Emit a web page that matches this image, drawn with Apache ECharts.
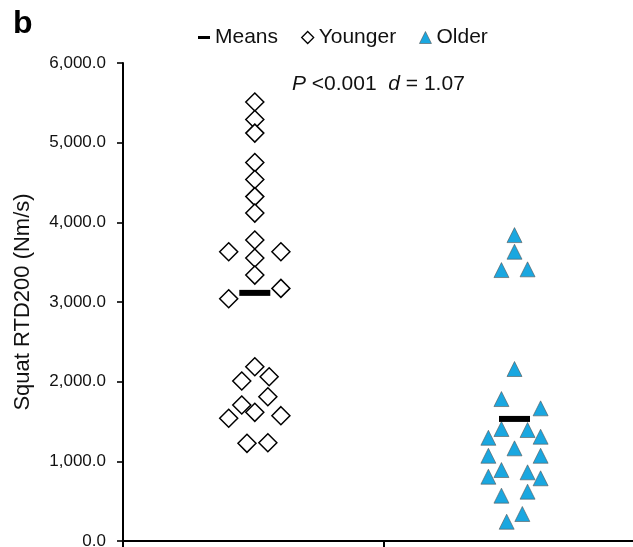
<!DOCTYPE html>
<html>
<head>
<meta charset="utf-8">
<script src="https://cdn.jsdelivr.net/npm/echarts@6/dist/echarts.min.js"></script>
<style>
  html, body { margin: 0; padding: 0; background: #fff; }
  #chart { width: 633px; height: 547px; }
</style>
</head>
<body>
<div id="chart"></div>
<script>
// Group centres on the x value axis (0..2, one unit per group)
const categories = ['Younger', 'Older'];
const groupCenters = [0.505, 1.5];

// Squat RTD200 (Nm/s), one value per participant, with horizontal jitter offsets
const youngerValues = [5510, 5290, 5120, 4750, 4537, 4323, 4116, 3778, 3552, 3631, 3631, 3338, 3171, 3040,
                       2187, 2062, 2008, 1811, 1707, 1615, 1540, 1573, 1226, 1234];
const youngerJitter = [0, 0, 0, 0, 0, 0, 0, 0, 0, -0.1, 0.1, 0, 0.1, -0.1,
                       0, 0.055, -0.05, 0.05, -0.05, 0, -0.1, 0.1, -0.03, 0.05];

const olderValues = [3840, 3631, 3401, 3410, 2159, 1782, 1665, 1406, 1393, 1296, 1309, 1163, 1070, 1070,
                     891, 862, 807, 787, 569, 619, 339, 242];
const olderJitter = [0, 0, -0.05, 0.05, 0, -0.05, 0.1, -0.05, 0.05, -0.1, 0.1, 0, -0.1, 0.1,
                     -0.05, 0.05, -0.1, 0.1, -0.05, 0.05, 0.03, -0.03];

const yMin = 0, yMax = 6000, yStep = 1000;

const mean = arr => arr.reduce((s, v) => s + v, 0) / arr.length;
const points = (vals, jit, c) => vals.map((v, i) => [c + jit[i], v]);

const FONT = 'Liberation Sans, Arial, sans-serif';
const BLUE = '#1aa7e0';
const chart = echarts.init(document.getElementById('chart'), null, { renderer: 'canvas' });

chart.setOption({
  animation: false,
  backgroundColor: '#fff',
  textStyle: { fontFamily: FONT },
  // the plot runs past the right edge of the canvas, so no clamping to the outer bounds
  grid: { left: 123, top: 63, width: 522, height: 478, containLabel: false, outerBoundsMode: 'none' },
  legend: {
    top: 27,
    left: 198,
    padding: 0,
    itemGap: 23,
    itemWidth: 12,
    itemHeight: 12,
    textStyle: { fontFamily: FONT, fontSize: 21, color: '#111' },
    data: [
      { name: 'Means', icon: 'path://M0,0 L12,0 L12,3 L0,3 Z', itemStyle: { color: '#000', borderWidth: 0 } },
      { name: 'Younger', icon: 'diamond', itemStyle: { color: '#fff', borderColor: '#000', borderWidth: 1.3 } },
      { name: 'Older', icon: 'triangle', itemStyle: { color: BLUE, borderColor: '#555', borderWidth: 0.6 } }
    ]
  },
  xAxis: {
    type: 'value',
    min: 0,
    max: 2,
    interval: 1,
    axisLine: { show: true, lineStyle: { color: '#000', width: 2 } },
    axisTick: { show: true, inside: false, length: 6, lineStyle: { color: '#000', width: 2 } },
    axisLabel: { show: false },
    splitLine: { show: false }
  },
  yAxis: {
    type: 'value',
    min: yMin,
    max: yMax,
    interval: yStep,
    name: 'Squat RTD200 (Nm/s)',
    nameLocation: 'middle',
    nameGap: 89,
    nameTextStyle: { fontFamily: FONT, fontSize: 22, color: '#111' },
    axisLine: { show: true, lineStyle: { color: '#000', width: 2 } },
    axisTick: { show: true, inside: false, length: 6, lineStyle: { color: '#000', width: 1.6 } },
    axisLabel: {
      margin: 17,
      fontFamily: FONT,
      fontSize: 17,
      color: '#111',
      formatter: v => v.toLocaleString('en-US', { minimumFractionDigits: 1, maximumFractionDigits: 1 })
    },
    splitLine: { show: false }
  },
  series: [
    {
      name: 'Younger',
      type: 'scatter',
      symbol: 'diamond',
      symbolSize: 18,
      itemStyle: { color: '#fff', borderColor: '#000', borderWidth: 1.5, opacity: 1 },
      data: points(youngerValues, youngerJitter, groupCenters[0]),
      z: 2
    },
    {
      name: 'Older',
      type: 'scatter',
      symbol: 'triangle',
      symbolSize: 15,
      itemStyle: { color: BLUE, borderColor: '#555', borderWidth: 0.6, opacity: 1 },
      data: points(olderValues, olderJitter, groupCenters[1]),
      z: 2
    },
    {
      name: 'Means',
      type: 'scatter',
      symbol: 'rect',
      symbolSize: [31, 6],
      itemStyle: { color: '#000', opacity: 1 },
      data: [
        [groupCenters[0], mean(youngerValues)],
        [groupCenters[1], mean(olderValues)]
      ],
      z: 3
    }
  ],
  graphic: [
    {
      type: 'text',
      left: 13,
      top: 8,
      style: { text: 'b', fontFamily: FONT, fontSize: 32, fontWeight: 'bold', fill: '#000' }
    },
    {
      type: 'text',
      left: 292,
      top: 74,
      style: {
        text: '{i|P} <0.001  {i|d} = 1.07',
        fontFamily: FONT,
        fontSize: 21,
        fill: '#111',
        rich: {
          i: { fontFamily: FONT, fontSize: 21, fontStyle: 'italic', fill: '#111' }
        }
      }
    }
  ]
});
</script>
</body>
</html>
